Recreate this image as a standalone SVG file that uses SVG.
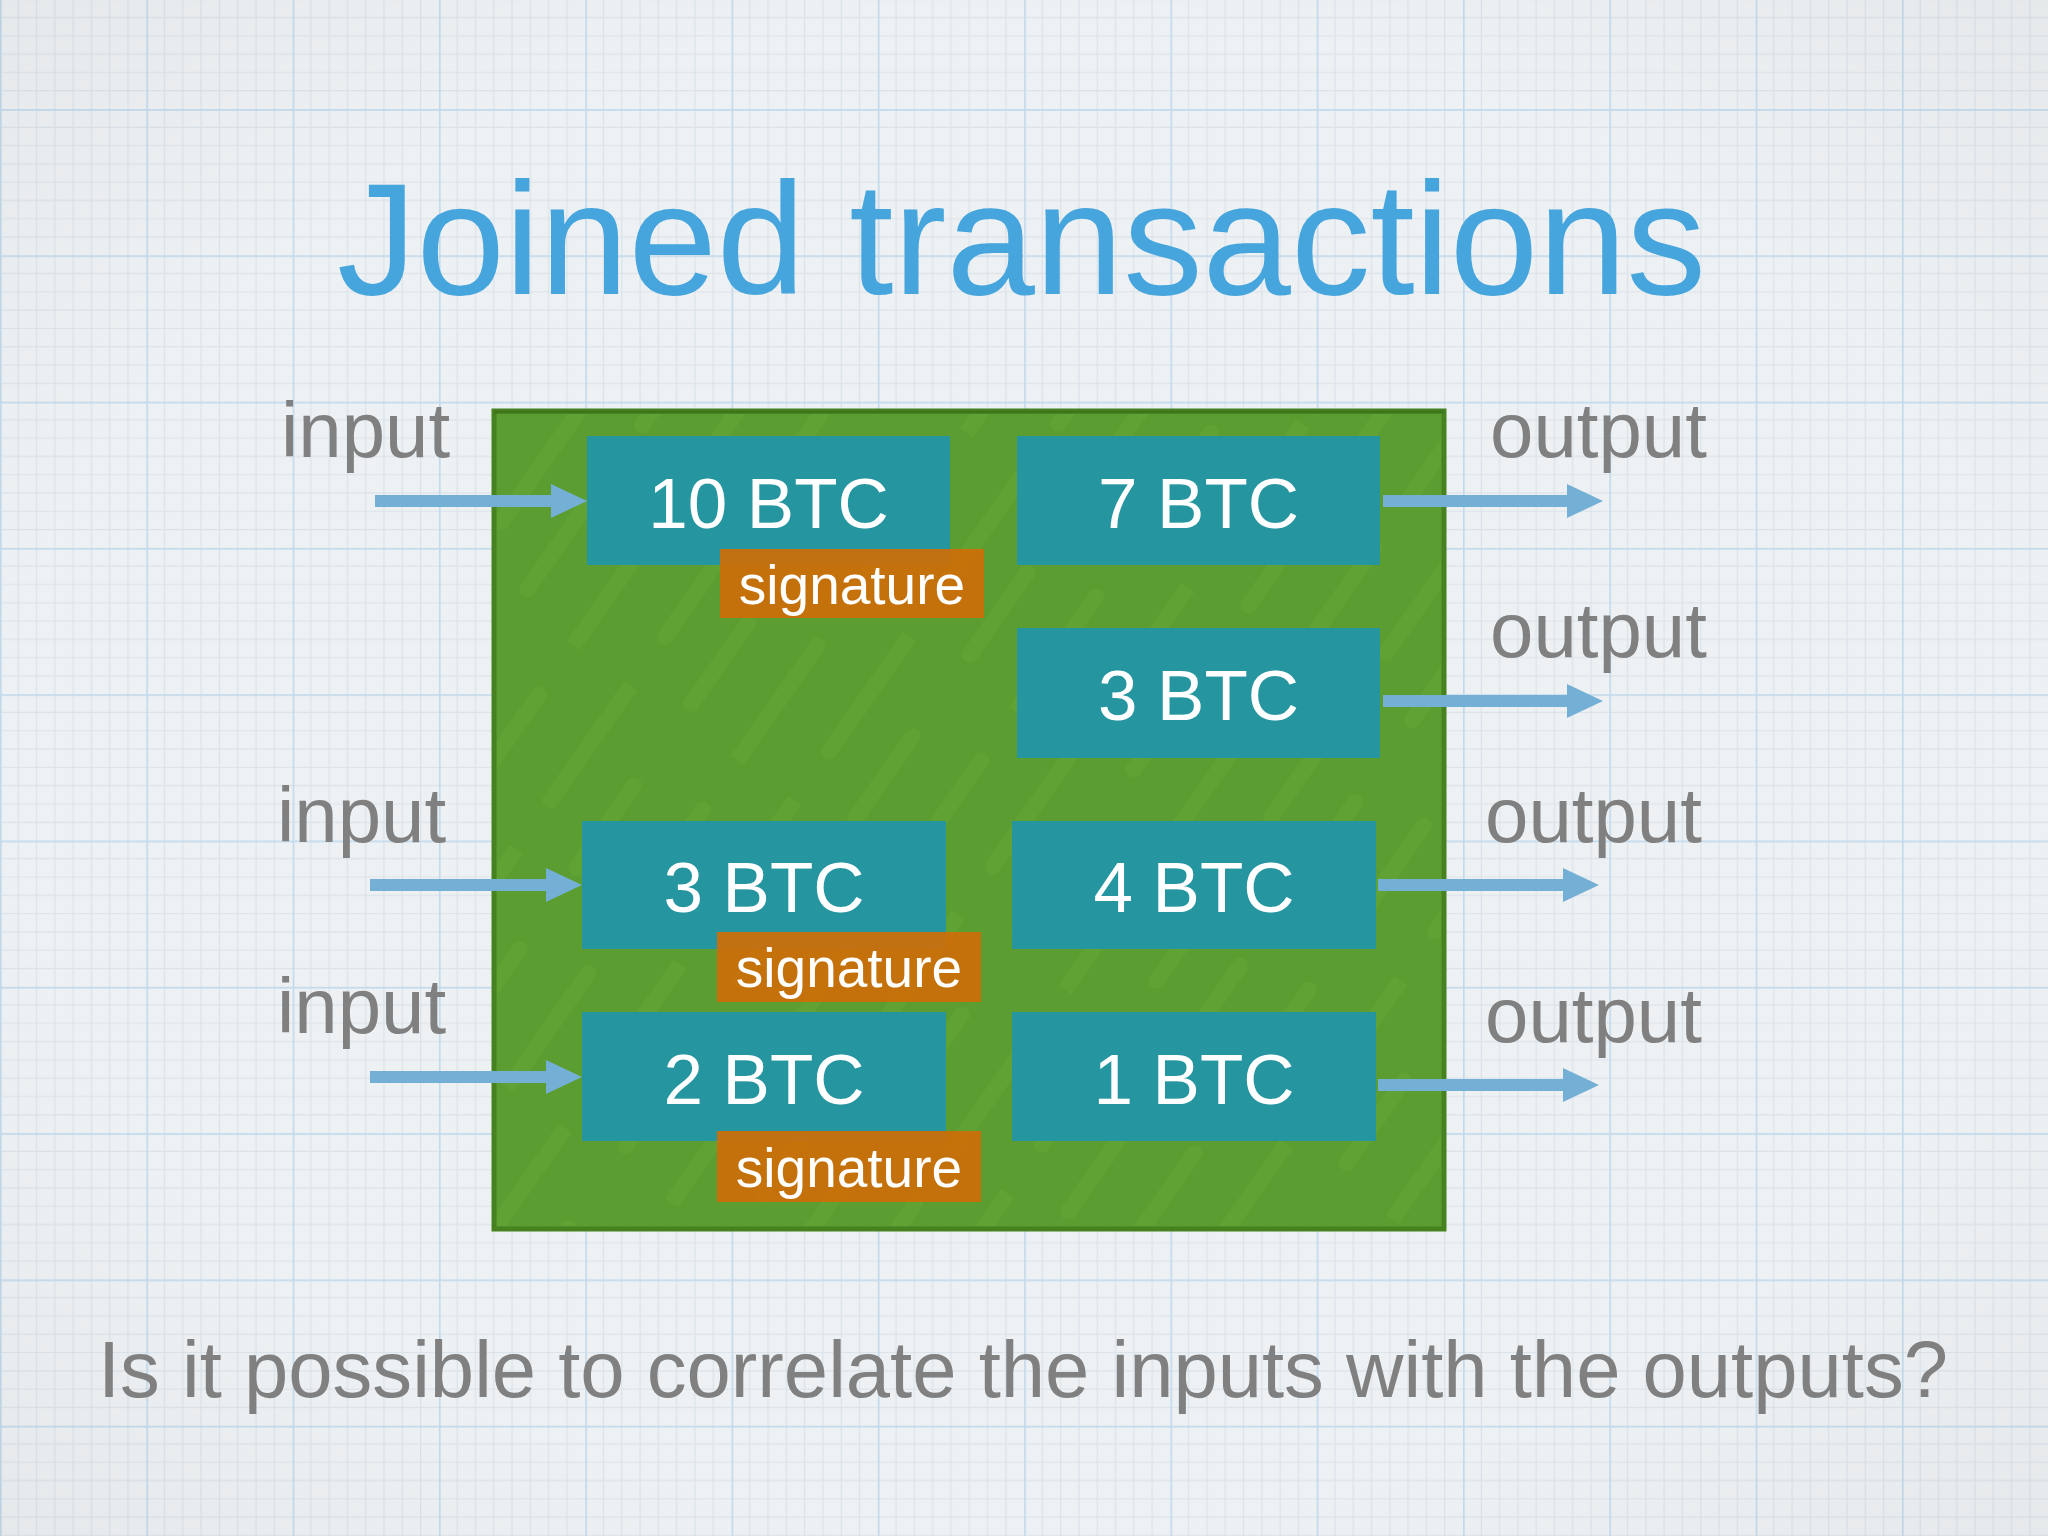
<svg xmlns="http://www.w3.org/2000/svg" width="2048" height="1536" viewBox="0 0 2048 1536">
  <defs>
    <pattern id="grid" patternUnits="userSpaceOnUse" x="0" y="-37.3" width="146.3" height="146.3">
      <rect width="146.3" height="146.3" fill="#eef1f3"/>
      <g stroke="#dae3ea" stroke-width="1.2">
        <path d="M18.29,0V146.3M36.58,0V146.3M54.86,0V146.3M73.15,0V146.3M91.44,0V146.3M109.73,0V146.3M128.01,0V146.3"/>
        <path d="M0,18.29H146.3M0,36.58H146.3M0,54.86H146.3M0,73.15H146.3M0,91.44H146.3M0,109.73H146.3M0,128.01H146.3"/>
      </g>
      <path d="M0.8,0V146.3M0,0.8H146.3" stroke="#c3daec" stroke-width="1.8"/>
    </pattern>
    <pattern id="streaks" patternUnits="userSpaceOnUse" width="200" height="200" patternTransform="rotate(-55)">
      <path d="M0,40H140M60,110H200M20,170H120" stroke="#9ad060" stroke-width="16" stroke-linecap="round" opacity="0.09"/>
    </pattern>
    <radialGradient id="vignette" cx="50%" cy="50%" r="75%">
      <stop offset="0.65" stop-color="#000" stop-opacity="0"/>
      <stop offset="1" stop-color="#000" stop-opacity="0.04"/>
    </radialGradient>
    <marker id="head" markerUnits="userSpaceOnUse" markerWidth="36" markerHeight="34" refX="0" refY="17" orient="auto" overflow="visible">
      <path d="M0,0 L36,17 L0,34 Z" fill="#74afd6"/>
    </marker>
    <style>
      .lbl { font-family: "Liberation Sans", Arial, sans-serif; fill: #808080; font-size: 78px; }
      .btc { fill: #2596a0; }
      .btct { font-family: "Liberation Sans", Arial, sans-serif; fill: #ffffff; font-size: 71px; text-anchor: middle; }
      .sig { fill: #cc6f08; opacity: 0.94; }
      .sigt { font-family: "Liberation Sans", Arial, sans-serif; fill: #ffffff; font-size: 55px; text-anchor: middle; }
      .conn path { stroke: #74afd6; stroke-width: 12; fill: none; marker-end: url(#head); }
    </style>
  </defs>

  <rect width="2048" height="1536" fill="url(#grid)"/>
  <rect width="2048" height="1536" fill="url(#vignette)"/>

  <text x="337" y="294" font-family="'Liberation Sans', Arial, sans-serif" font-size="160" fill="#45a5dc" textLength="1369" lengthAdjust="spacingAndGlyphs">Joined transactions</text>

  <g id="transaction">
    <rect x="494" y="411" width="950" height="818" fill="#5b9d30" stroke="#46821f" stroke-width="5"/>
    <rect x="497" y="414" width="944" height="812" fill="url(#streaks)"/>
    <path d="M494,412 H1444" stroke="#3c6f1b" stroke-width="3" opacity="0.6"/>
  </g>

  <g id="in1">
    <rect class="btc" x="587" y="436" width="363" height="129"/>
    <text class="btct" x="768.5" y="528">10 BTC</text>
  </g>
  <g id="sig1">
    <rect class="sig" x="720" y="549" width="264" height="69"/>
    <text class="sigt" x="852" y="604">signature</text>
  </g>
  <g id="out1">
    <rect class="btc" x="1017" y="436" width="363" height="129"/>
    <text class="btct" x="1198.5" y="528">7 BTC</text>
  </g>
  <g id="out2">
    <rect class="btc" x="1017" y="628" width="363" height="130"/>
    <text class="btct" x="1198.5" y="720">3 BTC</text>
  </g>
  <g id="in2">
    <rect class="btc" x="582" y="821" width="364" height="128"/>
    <text class="btct" x="764" y="912">3 BTC</text>
  </g>
  <g id="sig2">
    <rect class="sig" x="717" y="932" width="264" height="70"/>
    <text class="sigt" x="849" y="987">signature</text>
  </g>
  <g id="out3">
    <rect class="btc" x="1012" y="821" width="364" height="128"/>
    <text class="btct" x="1194" y="912">4 BTC</text>
  </g>
  <g id="in3">
    <rect class="btc" x="582" y="1012" width="364" height="129"/>
    <text class="btct" x="764" y="1104">2 BTC</text>
  </g>
  <g id="sig3">
    <rect class="sig" x="717" y="1131" width="264" height="71"/>
    <text class="sigt" x="849" y="1187">signature</text>
  </g>
  <g id="out4">
    <rect class="btc" x="1012" y="1012" width="364" height="129"/>
    <text class="btct" x="1194" y="1104">1 BTC</text>
  </g>

  <g id="labels">
    <text class="lbl" x="281" y="457">input</text>
    <text class="lbl" x="277" y="842">input</text>
    <text class="lbl" x="277" y="1033">input</text>
    <text class="lbl" x="1490" y="457">output</text>
    <text class="lbl" x="1490" y="657">output</text>
    <text class="lbl" x="1485" y="842">output</text>
    <text class="lbl" x="1485" y="1042">output</text>
  </g>

  <g id="connectors" class="conn">
    <path d="M375,501 H551"/>
    <path d="M370,885 H546"/>
    <path d="M370,1077 H546"/>
    <path d="M1383,501 H1567"/>
    <path d="M1383,701 H1567"/>
    <path d="M1378,885 H1563"/>
    <path d="M1378,1085 H1563"/>
  </g>

  <text x="98" y="1397" font-family="'Liberation Sans', Arial, sans-serif" font-size="79" fill="#808080" textLength="1850" lengthAdjust="spacingAndGlyphs">Is it possible to correlate the inputs with the outputs?</text>
</svg>
